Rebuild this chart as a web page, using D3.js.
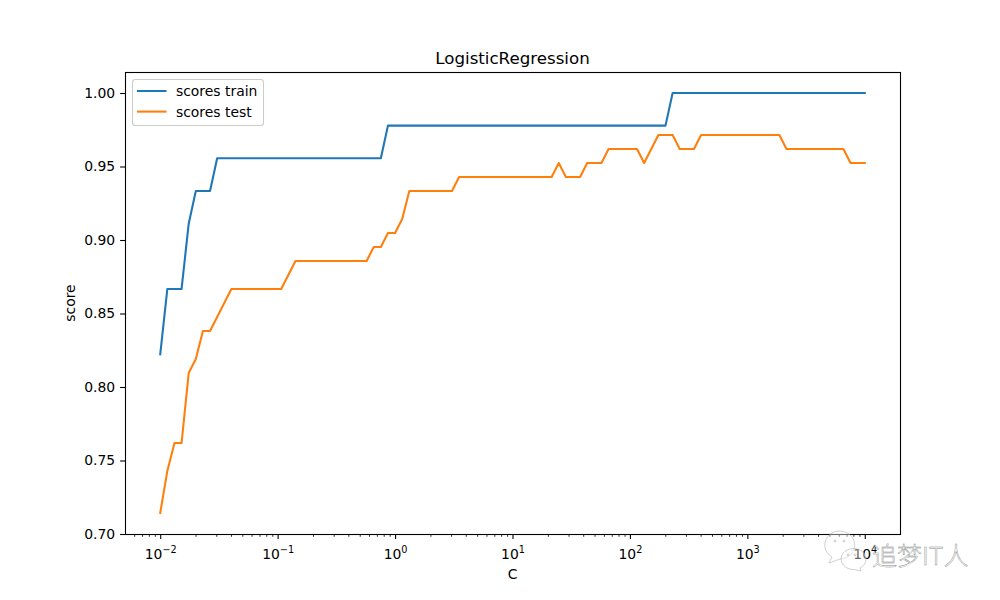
<!DOCTYPE html>
<html>
<head>
<meta charset="utf-8">
<script src="https://cdn.jsdelivr.net/npm/d3@7"></script>
<style>
html,body{margin:0;padding:0;background:#fff;}
svg{display:block;}
text{font-family:"DejaVu Sans",sans-serif;fill:#000;}
</style>
</head>
<body>
<svg id="chart" width="1000" height="600"></svg>
<script>
const cValues = [0.01,0.011498,0.013219,0.015199,0.017475,0.020092,0.023101,0.026561,0.030539,0.035112,
0.04037,0.046416,0.053367,0.061359,0.070548,0.081113,0.09326,0.10723,0.12328,0.14175,
0.16298,0.18738,0.21544,0.24771,0.2848,0.32745,0.37649,0.43288,0.4977,0.57224,
0.65793,0.75646,0.86975,1,1.1498,1.3219,1.5199,1.7475,2.0092,2.3101,
2.6561,3.0539,3.5112,4.037,4.6416,5.3367,6.1359,7.0548,8.1113,9.326,
10.723,12.328,14.175,16.298,18.738,21.544,24.771,28.48,32.745,37.649,
43.288,49.77,57.224,65.793,75.646,86.975,100,114.98,132.19,151.99,
174.75,200.92,231.01,265.61,305.39,351.12,403.7,464.16,533.67,613.59,
705.48,811.13,932.6,1072.3,1232.8,1417.5,1629.8,1873.8,2154.4,2477.1,
2848,3274.5,3764.9,4328.8,4977,5722.4,6579.3,7564.6,8697.5,10000];

const scoresTrain = [0.8222,0.8667,0.8667,0.8667,0.9111,0.9333,0.9333,0.9333,0.9556,0.9556,
0.9556,0.9556,0.9556,0.9556,0.9556,0.9556,0.9556,0.9556,0.9556,0.9556,
0.9556,0.9556,0.9556,0.9556,0.9556,0.9556,0.9556,0.9556,0.9556,0.9556,
0.9556,0.9556,0.9778,0.9778,0.9778,0.9778,0.9778,0.9778,0.9778,0.9778,
0.9778,0.9778,0.9778,0.9778,0.9778,0.9778,0.9778,0.9778,0.9778,0.9778,
0.9778,0.9778,0.9778,0.9778,0.9778,0.9778,0.9778,0.9778,0.9778,0.9778,
0.9778,0.9778,0.9778,0.9778,0.9778,0.9778,0.9778,0.9778,0.9778,0.9778,
0.9778,0.9778,1,1,1,1,1,1,1,1,
1,1,1,1,1,1,1,1,1,1,
1,1,1,1,1,1,1,1,1,1];

const scoresTest = [0.7143,0.7429,0.7619,0.7619,0.8095,0.819,0.8381,0.8381,0.8476,0.8571,
0.8667,0.8667,0.8667,0.8667,0.8667,0.8667,0.8667,0.8667,0.8762,0.8857,
0.8857,0.8857,0.8857,0.8857,0.8857,0.8857,0.8857,0.8857,0.8857,0.8857,
0.8952,0.8952,0.9048,0.9048,0.9143,0.9333,0.9333,0.9333,0.9333,0.9333,
0.9333,0.9333,0.9429,0.9429,0.9429,0.9429,0.9429,0.9429,0.9429,0.9429,
0.9429,0.9429,0.9429,0.9429,0.9429,0.9429,0.9524,0.9429,0.9429,0.9429,
0.9524,0.9524,0.9524,0.9619,0.9619,0.9619,0.9619,0.9619,0.9524,0.9619,
0.9714,0.9714,0.9714,0.9619,0.9619,0.9619,0.9714,0.9714,0.9714,0.9714,
0.9714,0.9714,0.9714,0.9714,0.9714,0.9714,0.9714,0.9714,0.9619,0.9619,
0.9619,0.9619,0.9619,0.9619,0.9619,0.9619,0.9619,0.9524,0.9524,0.9524];

const seriesNames = ["scores train","scores test"];
const seriesColors = ["#1f77b4","#ff7f0e"];
const xMajorTicks = [0.01,0.1,1,10,100,1000,10000];
const xExponents = ["−2","−1","0","1","2","3","4"];
const yTicks = [0.70,0.75,0.80,0.85,0.90,0.95,1.00];
const xDomain = [Math.pow(10,-2.3),Math.pow(10,4.3)];
const yDomain = [0.7,1.01429];
const decadeStarts = [0.001,0.01,0.1,1,10,100,1000,10000];
const minorMultipliers = [2,3,4,5,6,7,8,9];
const titleText = "LogisticRegression";
const xLabel = "C";
const yLabel = "score";
const watermarkText = "追梦IT人";

const m = {l:125,r:900,t:72,b:534};
const tickFont = "13.9px";
const svg = d3.select("#chart");
const x = d3.scaleLog().domain(xDomain).range([m.l,m.r]);
const y = d3.scaleLinear().domain(yDomain).range([m.b,m.t]);
const rows = cValues.map((c,i)=>({c,train:scoresTrain[i],test:scoresTest[i]}));

// lines
const lineOf = key => d3.line().x(d=>x(d.c)).y(d=>y(d[key]));
["train","test"].forEach((k,i)=>{
  svg.append("path").datum(rows).attr("d",lineOf(k))
    .attr("fill","none").attr("stroke",seriesColors[i]).attr("stroke-width",2.08)
    .attr("stroke-linejoin","round").attr("stroke-linecap","square");
});

// axes
const minorTicks = decadeStarts.flatMap(d=>minorMultipliers.map(k=>d*k))
  .filter(v=>v>=xDomain[0]&&v<=xDomain[1]);
const gMinor = svg.append("g").attr("transform",`translate(0,${m.b})`)
  .call(d3.axisBottom(x).tickValues(minorTicks).tickSize(2.8).tickFormat(""));
gMinor.select(".domain").remove();
gMinor.selectAll("line").attr("stroke","#000").attr("stroke-width",0.8);

const gx = svg.append("g").attr("transform",`translate(0,${m.b})`)
  .call(d3.axisBottom(x).tickValues(xMajorTicks).tickSize(4.9).tickPadding(0).tickFormat(""));
gx.select(".domain").remove();
gx.selectAll("line").attr("stroke","#000").attr("stroke-width",1.1);
gx.selectAll(".tick text").each(function(d,i){
  const t = d3.select(this).attr("y",24.5).attr("dy",0)
    .attr("text-anchor","middle").style("font-size",tickFont).style("font-family",'"DejaVu Sans"');
  t.append("tspan").text("10");
  t.append("tspan").text(xExponents[i]).attr("dy",-6).style("font-size","9.7px");
});

const gy = svg.append("g").attr("transform",`translate(${m.l},0)`)
  .call(d3.axisLeft(y).tickValues(yTicks).tickSize(4.9).tickPadding(4.9).tickFormat(d3.format(".2f")));
gy.select(".domain").remove();
gy.selectAll("line").attr("stroke","#000").attr("stroke-width",1.1);
gy.selectAll("text").style("font-size",tickFont).style("font-family",'"DejaVu Sans"').attr("fill","#000");

// frame
svg.append("rect").attr("x",m.l+0.5).attr("y",m.t+0.5).attr("width",m.r-m.l).attr("height",m.b-m.t)
  .attr("fill","none").attr("stroke","#000").attr("stroke-width",1.1);

// labels
svg.append("text").attr("x",512.5).attr("y",64).attr("text-anchor","middle").style("font-size","16.67px").text(titleText);
svg.append("text").attr("x",512.5).attr("y",579).attr("text-anchor","middle").style("font-size",tickFont).text(xLabel);
svg.append("text").attr("transform","translate(75,303) rotate(-90)").attr("text-anchor","middle").style("font-size",tickFont).text(yLabel);

// legend
const lg = svg.append("g");
lg.append("rect").attr("x",132.5).attr("y",79.5).attr("width",131).attr("height",46).attr("rx",2.8)
  .attr("fill","#fff").attr("fill-opacity",0.8).attr("stroke","#cccccc").attr("stroke-width",1.1);
seriesNames.forEach((n,i)=>{
  const ly = 91 + i*20.6;
  lg.append("line").attr("x1",138).attr("x2",165.5).attr("y1",ly).attr("y2",ly)
    .attr("stroke",seriesColors[i]).attr("stroke-width",2.08).attr("stroke-linecap","square");
  lg.append("text").attr("x",176).attr("y",ly+5).style("font-size",tickFont).text(n);
});

// watermark
const wm = svg.append("g").attr("fill","none").attr("stroke","#b0b0b0").attr("stroke-width",0.6);
wm.append("path").attr("d","M829 563 l3 -6 a15 14 0 1 1 8 2 z").attr("fill","#fff").attr("fill-opacity",0.4);
wm.append("path").attr("d","M861 571 l-1 -3 a12.5 10.5 0 1 0 -6 1.5 z").attr("fill","#fff").attr("fill-opacity",0.4);
[[835,541],[844,541],[848,555],[855,555]].forEach(p=>{
  wm.append("circle").attr("cx",p[0]).attr("cy",p[1]).attr("r",1);
});
svg.append("text").attr("x",872).attr("y",565).text(watermarkText)
  .style("font-family",'"Noto Sans CJK SC"').style("font-size","25px").style("font-weight",300)
  .style("fill","#ffffff").attr("stroke","#8c8c8c").attr("stroke-width",0.45);
</script>
</body>
</html>
